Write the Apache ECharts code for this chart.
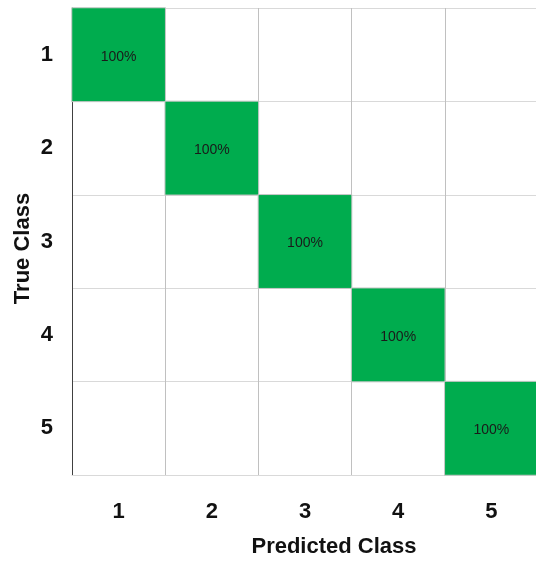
<!DOCTYPE html>
<html><head><meta charset="utf-8">
<script src="https://cdn.jsdelivr.net/npm/echarts@6/dist/echarts.min.js"></script>
<style>html,body{margin:0;padding:0;background:#fff}#c{width:536px;height:561px}</style>
</head><body><div id="c"></div>
<script>
const predictedClasses = ['1','2','3','4','5'];
const trueClasses = ['1','2','3','4','5'];
// rows = true class, columns = predicted class, values in %
const row1 = [100, 0, 0, 0, 0];
const row2 = [0, 100, 0, 0, 0];
const row3 = [0, 0, 100, 0, 0];
const row4 = [0, 0, 0, 100, 0];
const row5 = [0, 0, 0, 0, 100];
const matrix = [row1, row2, row3, row4, row5];

const FONT = "'Liberation Sans', Arial, sans-serif";
const data = [];
matrix.forEach((row, r) => row.forEach((v, c) => {
  const item = { value: [c, r, v] };
  if (v === 0) {
    item.itemStyle = { color: 'rgba(0,0,0,0)', borderWidth: 0 };
    item.label = { show: false };
  }
  data.push(item);
}));

const chart = echarts.init(document.getElementById('c'), null, { renderer: 'canvas' });
chart.setOption({
  backgroundColor: '#fff',
  animation: false,
  grid: { left: 72, top: 8, width: 466, height: 467, containLabel: false, outerBoundsMode: 'none' },
  xAxis: {
    type: 'category', data: predictedClasses,
    name: 'Predicted Class', nameLocation: 'middle', nameGap: 61, nameMoveOverlap: false,
    nameTextStyle: { fontFamily: FONT, fontSize: 22, fontWeight: 'bold', color: '#111', padding: [0, 0, 0, 58] },
    axisLine: { show: true, lineStyle: { color: '#d9d9d9', width: 1 } },
    axisTick: { show: false },
    axisLabel: { margin: 26, fontFamily: FONT, fontSize: 22, fontWeight: 'bold', color: '#111' },
    splitLine: { show: true, lineStyle: { color: '#c0c0c0', width: 1 } }
  },
  yAxis: {
    type: 'category', data: trueClasses, inverse: true,
    name: 'True Class', nameLocation: 'middle', nameGap: 38, nameRotate: 90, nameMoveOverlap: false,
    nameTextStyle: { fontFamily: FONT, fontSize: 22, fontWeight: 'bold', color: '#111', padding: [0, 14, 0, 0] },
    axisLine: { show: true, lineStyle: { color: '#404040', width: 1 } },
    axisTick: { show: false },
    axisLabel: { margin: 19, fontFamily: FONT, fontSize: 22, fontWeight: 'bold', color: '#111' },
    splitLine: { show: true, lineStyle: { color: '#d9d9d9', width: 1 } }
  },
  series: [{
    type: 'heatmap',
    data: data,
    itemStyle: { color: '#00ac4e', borderColor: '#c8c8c8', borderWidth: 1 },
    label: {
      show: true,
      formatter: p => p.value[2] + '%',
      fontFamily: FONT,
      fontSize: 14, color: '#1a1a1a',
      offset: [0, 2]
    },
    emphasis: { disabled: true }
  }]
});
</script></body></html>
